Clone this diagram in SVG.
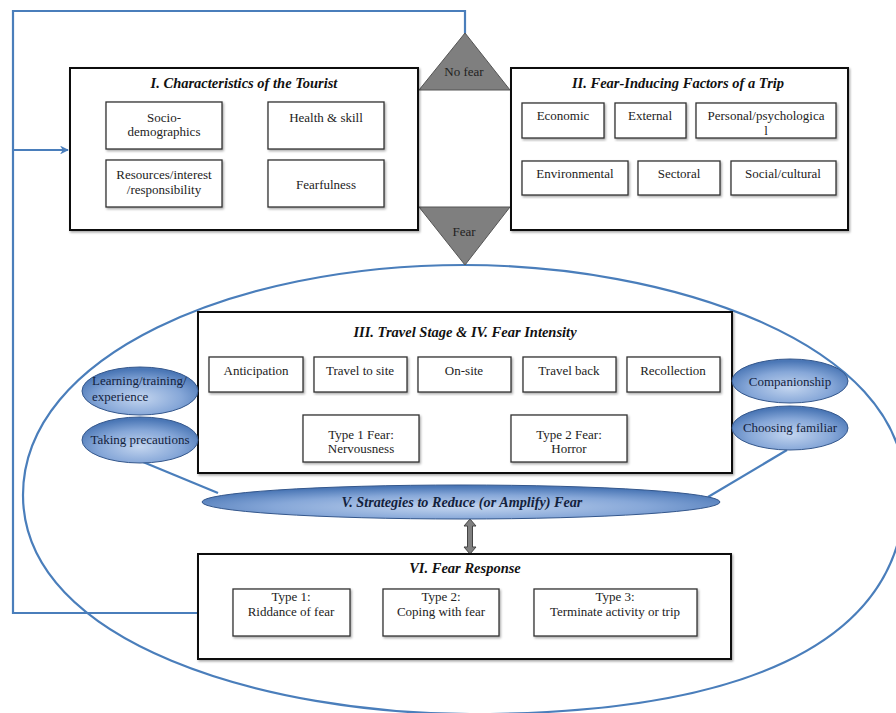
<svg xmlns="http://www.w3.org/2000/svg" width="896" height="713" viewBox="0 0 896 713">
<style>
.box{fill:#fff;stroke:#111;stroke-width:2;filter:url(#sh)}
.ib{fill:#fff;stroke:#333;stroke-width:1.3;filter:url(#sh)}
.t{font-family:"Liberation Serif","Times New Roman",serif;font-size:13px;fill:#222;text-anchor:middle}
.ti{font-family:"Liberation Serif","Times New Roman",serif;font-size:14.5px;font-weight:bold;font-style:italic;fill:#111;text-anchor:middle}
.et{font-family:"Liberation Serif","Times New Roman",serif;font-size:13px;fill:#13223d;text-anchor:middle}
.st{text-anchor:start}
.blue{fill:none;stroke:#4a7ebb;stroke-width:2.2}
.oval{fill:url(#g);stroke:#34578c;stroke-width:1}
.tri{fill:#7f7f7f;stroke:#555;stroke-width:1}
</style>
<defs>
<filter id="sh" x="-5%" y="-5%" width="110%" height="115%"><feDropShadow dx="1.2" dy="1.5" stdDeviation="0.8" flood-color="#000" flood-opacity="0.35"/></filter>
<radialGradient id="g" cx="50%" cy="65%" r="60%"><stop offset="0" stop-color="#c3d5ef"/><stop offset="0.6" stop-color="#86a7d8"/><stop offset="1" stop-color="#4b77b6"/></radialGradient>
<marker id="ah" viewBox="0 0 10 10" refX="9" refY="5" markerWidth="4" markerHeight="4" orient="auto"><path d="M0,0 L10,5 L0,10 L3,5 Z" fill="#4a7ebb"/></marker>
</defs>

<g id="connectors">
<path id="bigEllipse" class="blue" stroke-width="2" d="M464,265 C664,265 905,340 905,490 C905,650 730,714 470,714 C270,714 23,645 23,495 C23,355 234,265 464,265 Z"/>
<path class="blue" stroke-width="3" d="M198,613 H13 V11 H465 V35"/>
<path class="blue" stroke-width="3" d="M13,150 H68" marker-end="url(#ah)"/>
<line class="blue" x1="143" y1="462" x2="218" y2="493"/>
<line class="blue" x1="787" y1="450" x2="708" y2="497"/>
<path d="M470,519 L476,526 L472.5,526 L472.5,547 L476,547 L470,554 L464,547 L467.5,547 L467.5,526 L464,526 Z" fill="#808080" stroke="#444" stroke-width="1"/>
</g>

<g id="nofear">
<polygon class="tri" points="465,33 419,90 510,90"/>
<text class="t" x="464" y="76" font-size="12">No fear</text>
</g>
<g id="fear">
<polygon class="tri" points="419,207 510,207 465,265"/>
<text class="t" x="464" y="236" font-size="12">Fear</text>
</g>

<g id="box1">
<rect class="box" x="70" y="68" width="348" height="162"/>
<text class="ti" x="244" y="88">I. Characteristics of the Tourist</text>
<rect class="ib" x="106" y="102" width="116" height="47"/>
<text class="t" x="164" y="122">Socio-</text>
<text class="t" x="164" y="136">demographics</text>
<rect class="ib" x="268" y="102" width="116" height="47"/>
<text class="t" x="326" y="122">Health &amp; skill</text>
<rect class="ib" x="106" y="160" width="116" height="47"/>
<text class="t" x="164" y="179">Resources/interest</text>
<text class="t" x="164" y="194">/responsibility</text>
<rect class="ib" x="268" y="160" width="116" height="47"/>
<text class="t" x="326" y="189">Fearfulness</text>
</g>

<g id="box2">
<rect class="box" x="511" y="68" width="337" height="162"/>
<text class="ti" x="678" y="88">II. Fear-Inducing Factors of a Trip</text>
<rect class="ib" x="522" y="103" width="82" height="35"/>
<text class="t" x="563" y="120">Economic</text>
<rect class="ib" x="615" y="103" width="71" height="35"/>
<text class="t" x="650" y="120">External</text>
<rect class="ib" x="696" y="103" width="140" height="35"/>
<text class="t" x="766" y="120">Personal/psychologica</text>
<text class="t" x="766" y="135">l</text>
<rect class="ib" x="522" y="161" width="106" height="34"/>
<text class="t" x="575" y="178">Environmental</text>
<rect class="ib" x="638" y="161" width="82" height="34"/>
<text class="t" x="679" y="178">Sectoral</text>
<rect class="ib" x="731" y="161" width="105" height="34"/>
<text class="t" x="783" y="178">Social/cultural</text>
</g>

<g id="box3">
<rect class="box" x="198" y="312" width="534" height="161"/>
<text class="ti" x="465" y="337">III. Travel Stage &amp; IV. Fear Intensity</text>
<rect class="ib" x="209" y="357" width="94" height="35"/>
<text class="t" x="256" y="375">Anticipation</text>
<rect class="ib" x="314" y="357" width="93" height="35"/>
<text class="t" x="360" y="375">Travel to site</text>
<rect class="ib" x="418" y="357" width="93" height="35"/>
<text class="t" x="464" y="375">On-site</text>
<rect class="ib" x="523" y="357" width="93" height="35"/>
<text class="t" x="569" y="375">Travel back</text>
<rect class="ib" x="627" y="357" width="93" height="35"/>
<text class="t" x="673" y="375">Recollection</text>
<rect class="ib" x="303" y="415" width="116" height="47"/>
<text class="t" x="361" y="439">Type 1 Fear:</text>
<text class="t" x="361" y="453">Nervousness</text>
<rect class="ib" x="511" y="415" width="116" height="47"/>
<text class="t" x="569" y="439">Type 2 Fear:</text>
<text class="t" x="569" y="453">Horror</text>
</g>

<g id="learning">
<ellipse class="oval" cx="140" cy="391" rx="58" ry="24"/>
<text class="et st" x="92" y="385">Learning/training/</text>
<text class="et st" x="92" y="401">experience</text>
</g>
<g id="precautions">
<ellipse class="oval" cx="140" cy="440" rx="58" ry="23"/>
<text class="et" x="140" y="444">Taking precautions</text>
</g>
<g id="companionship">
<ellipse class="oval" cx="790" cy="381" rx="58" ry="22"/>
<text class="et" x="790" y="386">Companionship</text>
</g>
<g id="familiar">
<ellipse class="oval" cx="790" cy="428" rx="58" ry="22"/>
<text class="et" x="790" y="432">Choosing familiar</text>
</g>

<g id="strategies">
<ellipse class="oval" cx="461" cy="502" rx="259" ry="17"/>
<text class="ti" x="462" y="507" style="font-size:14.2px;fill:#13223d">V. Strategies to Reduce (or Amplify) Fear</text>
</g>

<g id="box6">
<rect class="box" x="198" y="554" width="533" height="105"/>
<text class="ti" x="465" y="573">VI. Fear Response</text>
<rect class="ib" x="233" y="589" width="117" height="47"/>
<text class="t" x="291" y="601">Type 1:</text>
<text class="t" x="291" y="616">Riddance of fear</text>
<rect class="ib" x="383" y="589" width="116" height="47"/>
<text class="t" x="441" y="601">Type 2:</text>
<text class="t" x="441" y="616">Coping with fear</text>
<rect class="ib" x="534" y="589" width="163" height="47"/>
<text class="t" x="615" y="601">Type 3:</text>
<text class="t" x="615" y="616">Terminate activity or trip</text>
</g>
</svg>
